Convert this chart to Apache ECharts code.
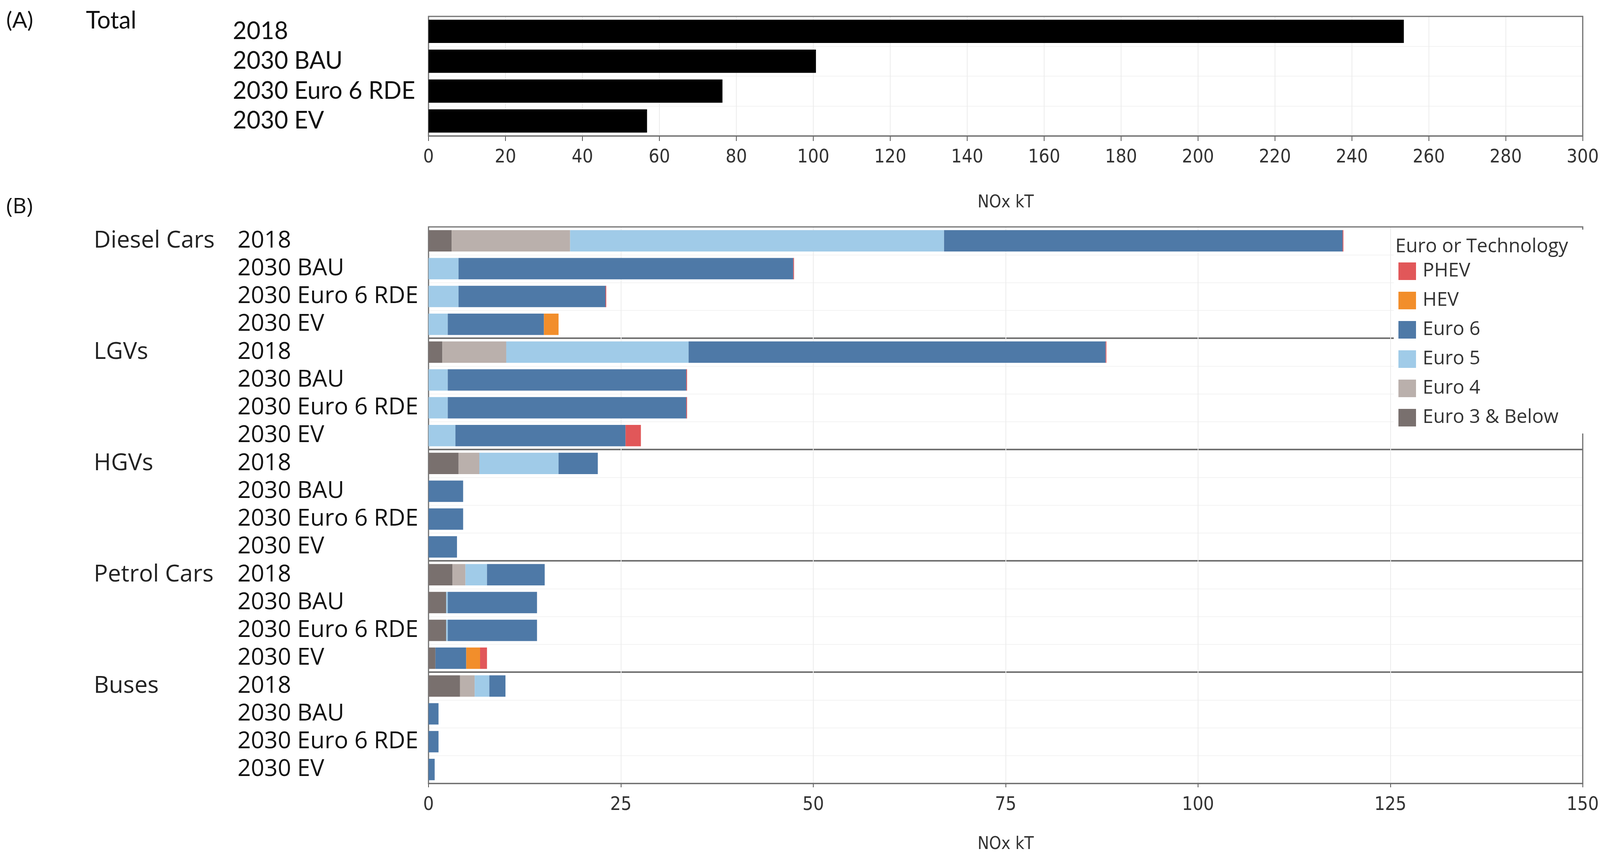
<!DOCTYPE html>
<html>
<head>
<meta charset="utf-8">
<script src="https://cdn.jsdelivr.net/npm/echarts@6/dist/echarts.min.js"></script>
<style>html,body{margin:0;padding:0;background:#fff;overflow:hidden;}#c{width:100vw;height:100vh;}</style>
</head>
<body>
<div id="c"></div>
<script>
// ---- Data ----
const totalScenarios = ['2018', '2030 BAU', '2030 Euro 6 RDE', '2030 EV'];
const totalValues = [253.5, 100.7, 76.4, 56.8];

const groupNames = ['Diesel Cars', 'LGVs', 'HGVs', 'Petrol Cars', 'Buses'];
const scenarios = ['2018', '2030 BAU', '2030 Euro 6 RDE', '2030 EV'];

const seriesNames = ['Euro 3 & Below', 'Euro 4', 'Euro 5', 'Euro 6', 'HEV', 'PHEV'];
const euro3 = [3.0, 0, 0, 0,   1.8, 0, 0, 0,   3.9, 0, 0, 0,   3.1, 2.3, 2.3, 0.9,   4.1, 0, 0, 0];
const euro4 = [15.4, 0, 0, 0,  8.3, 0, 0, 0,   2.7, 0, 0, 0,   1.7, 0, 0, 0,   1.9, 0, 0, 0];
const euro5 = [48.6, 3.9, 3.9, 2.5,  23.7, 2.5, 2.5, 3.5,  10.3, 0, 0, 0,  2.8, 0.2, 0.2, 0,  1.9, 0, 0, 0];
const euro6 = [51.8, 43.5, 19.1, 12.5,  54.2, 31.0, 31.0, 22.1,  5.1, 4.5, 4.5, 3.7,  7.5, 11.6, 11.6, 4.0,  2.1, 1.3, 1.3, 0.8];
const hev   = [0, 0, 0, 1.9,  0, 0, 0, 0,  0, 0, 0, 0,  0, 0, 0, 1.8,  0, 0, 0, 0];
const phev  = [0.1, 0.1, 0.1, 0,  0.1, 0.1, 0.1, 2.0,  0, 0, 0, 0,  0, 0, 0, 0.9,  0, 0, 0, 0];

const colors = {
  'Euro 3 & Below': '#79706E',
  'Euro 4': '#BAB0AC',
  'Euro 5': '#A0CBE8',
  'Euro 6': '#4E79A7',
  'HEV': '#F28E2B',
  'PHEV': '#E15759'
};

const topTicks = {min: 0, max: 300, interval: 20};
const botTicks = {min: 0, max: 150, interval: 25};

// ---- Build ----
const rowKeys = [];
groupNames.forEach(g => scenarios.forEach(s => rowKeys.push(g + '|' + s)));
const seriesData = [euro3, euro4, euro5, euro6, hev, phev];

const el = document.getElementById('c');
const W = el.clientWidth || window.innerWidth;
const H = el.clientHeight || window.innerHeight;
const sx = W / 4174;
const sy = H / 2197;
const X = v => Math.round(v * sx);
const Y = v => Math.round(v * sy);

const tickFont = '"DejaVu Sans Condensed", "Liberation Sans Narrow", "DejaVu Sans", sans-serif';
const catFontB = '"Open Sans", "Noto Sans", sans-serif';
const catFontA = 'Lato, "Open Sans", sans-serif';
const borderC = '#707070';

const chart = echarts.init(el, null, {renderer: 'canvas'});

const barSeries = seriesNames.map((n, i) => ({
  name: n,
  type: 'bar',
  stack: 'b',
  xAxisIndex: 1,
  yAxisIndex: 1,
  barCategoryGap: '23%',
  itemStyle: {color: colors[n]},
  data: seriesData[i],
  z: 3
}));

const gridLeft = X(1118), gridRight = W - X(4136);
const faintX = {show: true, showMinLine: false, showMaxLine: false, lineStyle: {color: '#ececec', width: 2}};
const faintY = {show: true, showMinLine: false, showMaxLine: false, lineStyle: {color: '#f3f3f3', width: 2}};

const option = {
  backgroundColor: '#ffffff',
  animation: false,
  grid: [
    {left: gridLeft, right: gridRight, top: Y(42), height: Y(306), show: true, borderColor: borderC, borderWidth: 3, backgroundColor: 'transparent', z: 1},
    {left: gridLeft, right: gridRight, top: Y(581), height: Y(1425), show: true, borderColor: borderC, borderWidth: 3, backgroundColor: 'transparent', z: 1}
  ],
  xAxis: [
    {
      type: 'value', gridIndex: 0, min: topTicks.min, max: topTicks.max, interval: topTicks.interval,
      name: 'NOx kT', nameLocation: 'middle', nameGap: Y(150),
      nameTextStyle: {fontFamily: tickFont, fontSize: 44, color: '#333'},
      axisLine: {show: true, lineStyle: {color: borderC, width: 3}},
      axisTick: {show: true, length: 13, lineStyle: {color: '#555', width: 2}},
      axisLabel: {fontFamily: tickFont, fontSize: 48, color: '#333', margin: 32},
      splitLine: faintX
    },
    {
      type: 'value', gridIndex: 1, min: botTicks.min, max: botTicks.max, interval: botTicks.interval,
      name: 'NOx kT', nameLocation: 'middle', nameGap: Y(135),
      nameTextStyle: {fontFamily: tickFont, fontSize: 44, color: '#333'},
      axisLine: {show: true, lineStyle: {color: borderC, width: 3}},
      axisTick: {show: true, length: 10, lineStyle: {color: '#555', width: 2}},
      axisLabel: {fontFamily: tickFont, fontSize: 48, color: '#333', margin: 32},
      splitLine: faintX
    }
  ],
  yAxis: [
    {
      type: 'category', gridIndex: 0, inverse: true, data: totalScenarios,
      axisLine: {show: false}, axisTick: {show: false},
      axisLabel: {align: 'left', margin: gridLeft - X(607), interval: 0, fontFamily: catFontA, fontSize: 61, color: '#111'},
      splitLine: faintY
    },
    {
      type: 'category', gridIndex: 1, inverse: true, data: rowKeys,
      axisLine: {show: false}, axisTick: {show: false},
      axisLabel: {
        align: 'left', margin: gridLeft - X(245), interval: 0,
        formatter: function (v, idx) {
          const parts = v.split('|');
          const g = (idx % 4 === 0) ? parts[0] : '';
          return '{g|' + g + '}{s|' + parts[1] + '}';
        },
        rich: {
          g: {width: X(620) - X(245), fontFamily: catFontB, fontSize: 60, color: '#222', align: 'left'},
          s: {fontFamily: catFontB, fontSize: 60, color: '#111', align: 'left'}
        }
      },
      splitLine: faintY
    },
    {
      type: 'category', gridIndex: 1, inverse: true, data: groupNames,
      axisLine: {show: false}, axisTick: {show: false}, axisLabel: {show: false},
      splitLine: {show: true, showMinLine: false, showMaxLine: false, lineStyle: {color: borderC, width: 4}}
    }
  ],
  legend: {
    orient: 'vertical', left: X(3648), top: Y(670), padding: 0,
    data: ['PHEV', 'HEV', 'Euro 6', 'Euro 5', 'Euro 4', 'Euro 3 & Below'],
    icon: 'rect', itemWidth: 45, itemHeight: 45, itemGap: Y(26),
    textStyle: {fontFamily: catFontB, fontSize: 49, color: '#333', padding: [0, 0, 0, 12]},
    z: 20
  },
  graphic: [
    {type: 'rect', shape: {x: X(3636), y: Y(588), width: X(4133) - X(3636), height: Y(522)}, style: {fill: '#ffffff'}, z: 10, silent: true},
    {type: 'text', x: X(3640), y: Y(632), style: {text: 'Euro or Technology', font: '49px "Open Sans"', fill: '#333', textVerticalAlign: 'middle'}, z: 11},
    {type: 'text', x: X(16), y: Y(53), style: {text: '(A)', font: '57px Lato', fill: '#111', textVerticalAlign: 'middle'}},
    {type: 'text', x: X(224), y: Y(53), style: {text: 'Total', font: '61px Lato', fill: '#111', textVerticalAlign: 'middle'}},
    {type: 'text', x: X(16), y: Y(530), style: {text: '(B)', font: '55px "Open Sans"', fill: '#111', textVerticalAlign: 'middle'}}
  ],
  series: [
    {
      name: 'Total', type: 'bar', xAxisIndex: 0, yAxisIndex: 0,
      barCategoryGap: '22%', itemStyle: {color: '#000000'},
      data: totalValues, z: 3
    }
  ].concat(barSeries)
};

chart.setOption(option);
</script>
</body>
</html>
